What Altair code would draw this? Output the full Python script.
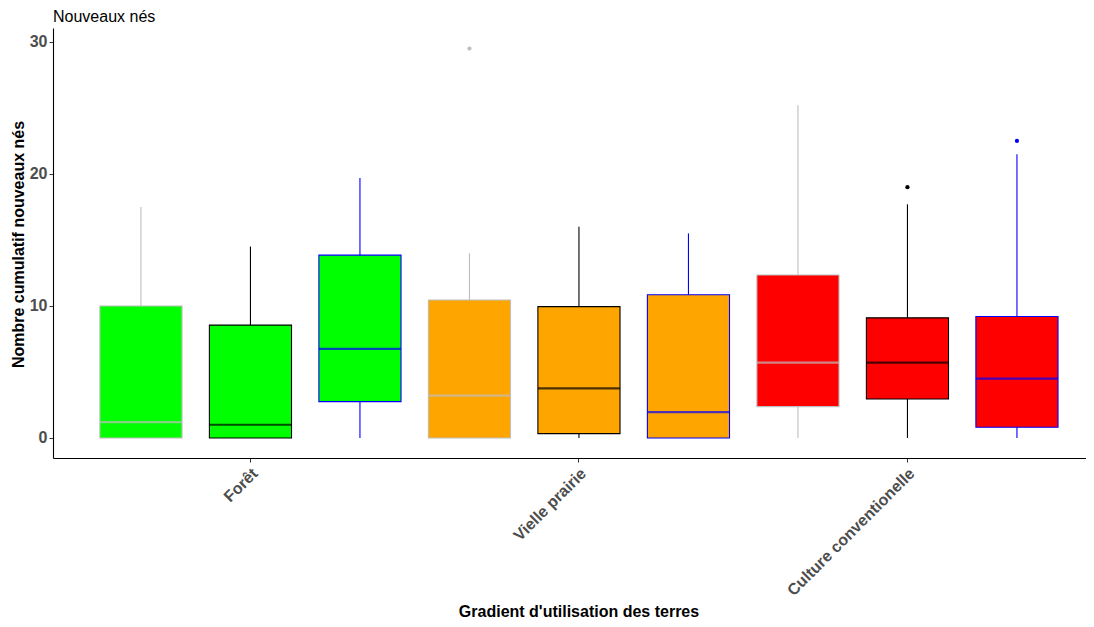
import altair as alt
import pandas as pd

# ---- data ----
groups = ["Forêt", "Vielle prairie", "Culture conventionelle"]
subgroups = ["Modalité 1", "Modalité 2", "Modalité 3"]

box_group = ["Forêt"] * 3 + ["Vielle prairie"] * 3 + ["Culture conventionelle"] * 3
box_sub = subgroups * 3
lower = [0, 0, 0, 0, 0, 0, 0, 0, 0]
q1 = [0, 0, 2.75, 0, 0.33, 0, 2.37, 2.95, 0.81]
median = [1.2, 1.0, 6.75, 3.2, 3.75, 1.95, 5.7, 5.7, 4.5]
q3 = [10.0, 8.55, 13.85, 10.45, 9.95, 10.85, 12.35, 9.1, 9.2]
upper = [17.5, 14.5, 19.7, 14.0, 16.0, 15.5, 25.2, 17.7, 21.5]

out_group = ["Vielle prairie", "Culture conventionelle", "Culture conventionelle"]
out_sub = ["Modalité 1", "Modalité 2", "Modalité 3"]
out_value = [29.5, 19.0, 22.5]

y_ticks = [0, 10, 20, 30]

boxes = pd.DataFrame({"groupe": box_group, "sous": box_sub, "lo": lower,
                      "q1": q1, "med": median, "q3": q3, "hi": upper})
outliers = pd.DataFrame({"groupe": out_group, "sous": out_sub, "val": out_value})

FONT = "Liberation Sans"
fill_scale = alt.Scale(domain=groups, range=["#00FF00", "#FFA500", "#FF0000"])
line_scale = alt.Scale(domain=subgroups, range=["#BEBEBE", "#000000", "#0000FF"])

x_enc = alt.X(
    "groupe:N", sort=groups,
    scale=alt.Scale(paddingInner=0, paddingOuter=0.0723, align=0.699),
    axis=alt.Axis(
        title="Gradient d'utilisation des terres",
        titleFont=FONT, titleFontSize=16, titleFontWeight="bold", titleColor="black",
        titleX=525.5, titleY=158, titleBaseline="alphabetic", titleAlign="center",
        labelFont=FONT, labelFontSize=16, labelFontWeight="bold", labelColor="#4D4D4D",
        labelAngle=-45, labelAlign="right", labelBaseline="top",
        labelOffset=-1, labelPadding=3,
        domainColor="black", domainWidth=1.1,
        tickColor="#333333", tickSize=4, tickWidth=1, grid=False,
    ),
)
xoff = alt.XOffset("sous:N", sort=subgroups,
                   scale=alt.Scale(paddingInner=0.25, paddingOuter=0.125))

y_scale = alt.Scale(domain=[-1.52, 31.06], nice=False, zero=False)
y_axis = alt.Axis(
    title="Nombre cumulatif nouveaux nés", values=y_ticks,
    titleFont=FONT, titleFontSize=16, titleFontWeight="bold", titleColor="black",
    titleX=-30, titleY=216, titleBaseline="alphabetic", titleAngle=-90,
    labelFont=FONT, labelFontSize=16, labelFontWeight="bold", labelColor="#4D4D4D",
    labelPadding=2,
    domainColor="black", domainWidth=1.1,
    tickColor="#333333", tickSize=4, tickWidth=1, grid=False,
)

base = alt.Chart(boxes)

whiskers = base.mark_rule(strokeWidth=1.1).encode(
    x=x_enc, xOffset=xoff,
    y=alt.Y("lo:Q", scale=y_scale, axis=y_axis),
    y2="hi:Q",
    stroke=alt.Stroke("sous:N", scale=line_scale, legend=None),
)

rects = base.mark_bar(strokeWidth=1.1).encode(
    x=x_enc, xOffset=xoff,
    y=alt.Y("q1:Q", scale=y_scale, axis=y_axis),
    y2="q3:Q",
    fill=alt.Fill("groupe:N", scale=fill_scale, legend=None),
    stroke=alt.Stroke("sous:N", scale=line_scale, legend=None),
)

medians = base.mark_tick(size=82, thickness=2.2).encode(
    x=x_enc, xOffset=xoff,
    y=alt.Y("med:Q", scale=y_scale, axis=y_axis),
    color=alt.Color("sous:N", scale=line_scale, legend=None),
)

points = alt.Chart(outliers).mark_circle(size=18, opacity=1).encode(
    x=x_enc, xOffset=xoff,
    y=alt.Y("val:Q", scale=y_scale, axis=y_axis),
    color=alt.Color("sous:N", scale=line_scale, legend=None),
)

chart = alt.layer(whiskers, rects, medians, points).properties(
    width=1033, height=430,
    title=alt.TitleParams("Nouveaux nés", anchor="start", font=FONT, fontSize=16,
                          fontWeight="normal", color="black", frame="group",
                          baseline="alphabetic", offset=0, dy=10),
    autosize=alt.AutoSizeParams(type="none"),
    padding={"left": 45, "top": 20, "right": 0, "bottom": 160},
    background="white",
).configure_view(stroke=None)

chart.save("out.html", embed_options={"renderer": "svg", "actions": False})
